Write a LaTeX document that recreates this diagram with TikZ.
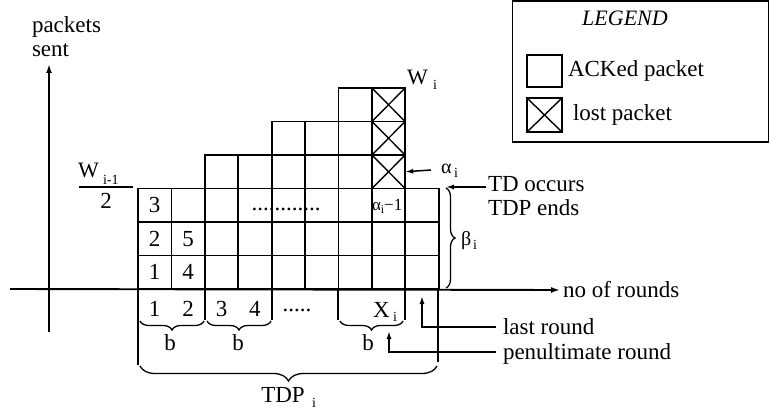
\documentclass[tikz,border=0pt]{standalone}
\usepackage{fontspec}
\setmainfont{Liberation Serif}
\usetikzlibrary{arrows.meta,decorations.pathreplacing,calc}
\begin{document}
\begin{tikzpicture}[x=1pt,y=-1pt,
  every node/.style={font=\fontsize{23}{24}\selectfont, inner sep=0pt, outer sep=0pt},
  cell/.style={draw, line width=1.8pt, minimum width=33.4pt, minimum height=33.5pt},
  lost/.style={cell, path picture={\draw[line width=1.4pt]
      (path picture bounding box.north west)--(path picture bounding box.south east)
      (path picture bounding box.north east)--(path picture bounding box.south west);}},
  axis/.style={line width=1.9pt, -{Latex[length=9pt,width=6pt]}},
  arr/.style={line width=1.5pt, -{Latex[length=8pt,width=5pt]}},
  thin/.style={line width=1.4pt},
  brc/.style={decorate, decoration={brace, amplitude=#1}, line width=1.3pt},
  sub/.style={font=\fontsize{14}{14}\selectfont},
  greek/.style={font=\fontsize{20}{20}\selectfont},
  wfont/.style={font=\fontsize{22}{22}\selectfont}
]
\useasboundingbox (0,0) rectangle (770,414);

% ---------- grid of packets ----------
\def\s{33.4}
\foreach \col/\hh in {1/3,2/3,3/4,4/4,5/5,6/5,7/6,8/3,9/3}{
  \foreach \r in {1,...,\hh}{
    \node[cell] (cell-\col-\r) at ({138+(\col-0.5)*\s},{289-(\r-0.5)*33.5}) {};
  }
}
\foreach \r in {4,5,6}{
  \node[lost] (cell-8-\r) at ({138+7.5*\s},{289-(\r-0.5)*33.5}) {};
}

% numbers inside the grid
\node (g1) at (cell-1-1) {1};
\node (g2) at (cell-1-2) {2};
\node (g3) at (cell-1-3) {3};
\node (g4) at (cell-2-1) {4};
\node (g5) at (cell-2-2) {5};
\node[anchor=base] (gdots) at (286,210) {............};
\node[anchor=base west, font=\fontsize{17}{17}\selectfont] (am1) at (372,210)
  {α\raisebox{-3pt}{\fontsize{12}{12}\selectfont i}−1};

% ---------- axes ----------
\coordinate (xs) at (10,289);
\node[anchor=west] (xlab) at (563,290) {no of rounds};
\draw[axis, shorten >=3pt] (xs) -- (xlab.west);
\coordinate (ys) at (49,332);
\coordinate (ye) at (49,64);
\draw[axis] (ys) -- (ye);
\node[anchor=base west] (ylab1) at (32,33) {packets};
\node[anchor=base west] (ylab2) at (32,57) {sent};

% W_{i-1}/2
\node[anchor=base west, wfont] (wprev) at (78,177) {W};
\node[anchor=base west, sub] (wprevsub) at (103,184) {i-1};
\coordinate (barA) at (79,187);
\coordinate (barB) at (133,187);
\draw[thin] (barA) -- (barB);
\node[anchor=base] (two) at (106,208) {2};

% W_i
\node[anchor=base west, wfont] (wi) at (407,85) {W};
\node[anchor=base west, sub] (wisub) at (433,90) {i};

% alpha_i
\node[anchor=base west, greek] (alpha) at (441,174) {α};
\node[anchor=base west, sub] (alphasub) at (454,178) {i};
\coordinate (alA) at (431,170);
\draw[arr] (alA) -- (cell-8-4.east);

% TD occurs
\node[anchor=base west] (td1) at (488,191) {TD occurs};
\node[anchor=base west] (td2) at (488,215) {TDP ends};
\coordinate (tdA) at (486,187);
\coordinate (tdB) at (446,187);
\draw[arr] (tdA) -- (tdB);

% beta_i
\draw[brc=9pt] (446,188) -- (446,288);
\node[anchor=base west, greek] (beta) at (461,245) {β};
\node[anchor=base west, sub] (betasub) at (473,249) {i};

% ---------- below the axis ----------
\node[anchor=base] (r1) at (cell-1-1 |- 0,316) {1};
\node[anchor=base] (r2) at (cell-2-1 |- 0,316) {2};
\node[anchor=base] (r3) at (cell-3-1 |- 0,316) {3};
\node[anchor=base] (r4) at (cell-4-1 |- 0,316) {4};
\node[anchor=base] (rdots) at (297,311) {.....};
\node[anchor=base west] (rx) at (373,317) {X};
\node[anchor=base west, sub] (rxsub) at (393,321) {i};

\foreach \xx/\yy [count=\k] in {138/365,205/320,272/320,338/320,405/320,438/362}{
  \coordinate (sepT\k) at (\xx,289);
  \coordinate (sepB\k) at (\xx,\yy);
  \draw[thin] (sepT\k) -- (sepB\k);
}

\draw[brc=9pt] (204,321) -- (140,321);
\draw[brc=9pt] (271,321) -- (207,321);
\draw[brc=9pt] (403,321) -- (340,321);
\node[anchor=base] (b1) at (170,350) {b};
\node[anchor=base] (b2) at (238,350) {b};
\node[anchor=base] (b3) at (368,350) {b};

\draw[brc=15pt] (437,366) -- (140,366);
\node[anchor=base] (tdp) at (283,402) {TDP};
\node[anchor=base west, sub] (tdpsub) at (312,407) {i};

% last round / penultimate round
\node[anchor=base west] (lrtxt) at (503,334) {last round};
\node[anchor=base west] (pentxt) at (503,359) {penultimate round};
\coordinate (lrA) at (496,327);
\coordinate (lrB) at (422,296);
\draw[arr] (lrA) -| (lrB);
\coordinate (penA) at (496,352);
\coordinate (penB) at (389,331);
\draw[arr] (penA) -| (penB);

% ---------- legend ----------
\node[draw, line width=1.3pt, minimum width=256pt, minimum height=141pt] (legend) at (640.5,71.5) {};
\node[font=\fontsize{22}{22}\selectfont\itshape] (legtitle) at (625,18) {LEGEND};
\node[draw, line width=1.6pt, minimum width=35pt, minimum height=32pt] (legack) at (544.5,71) {};
\node[anchor=west] (legacktxt) at (568,71) {ACKed packet};
\node[lost, minimum width=35pt, minimum height=34pt] (leglost) at (544.5,115) {};
\node[anchor=west] (leglosttxt) at (573,115) {lost packet};
\end{tikzpicture}
\end{document}
